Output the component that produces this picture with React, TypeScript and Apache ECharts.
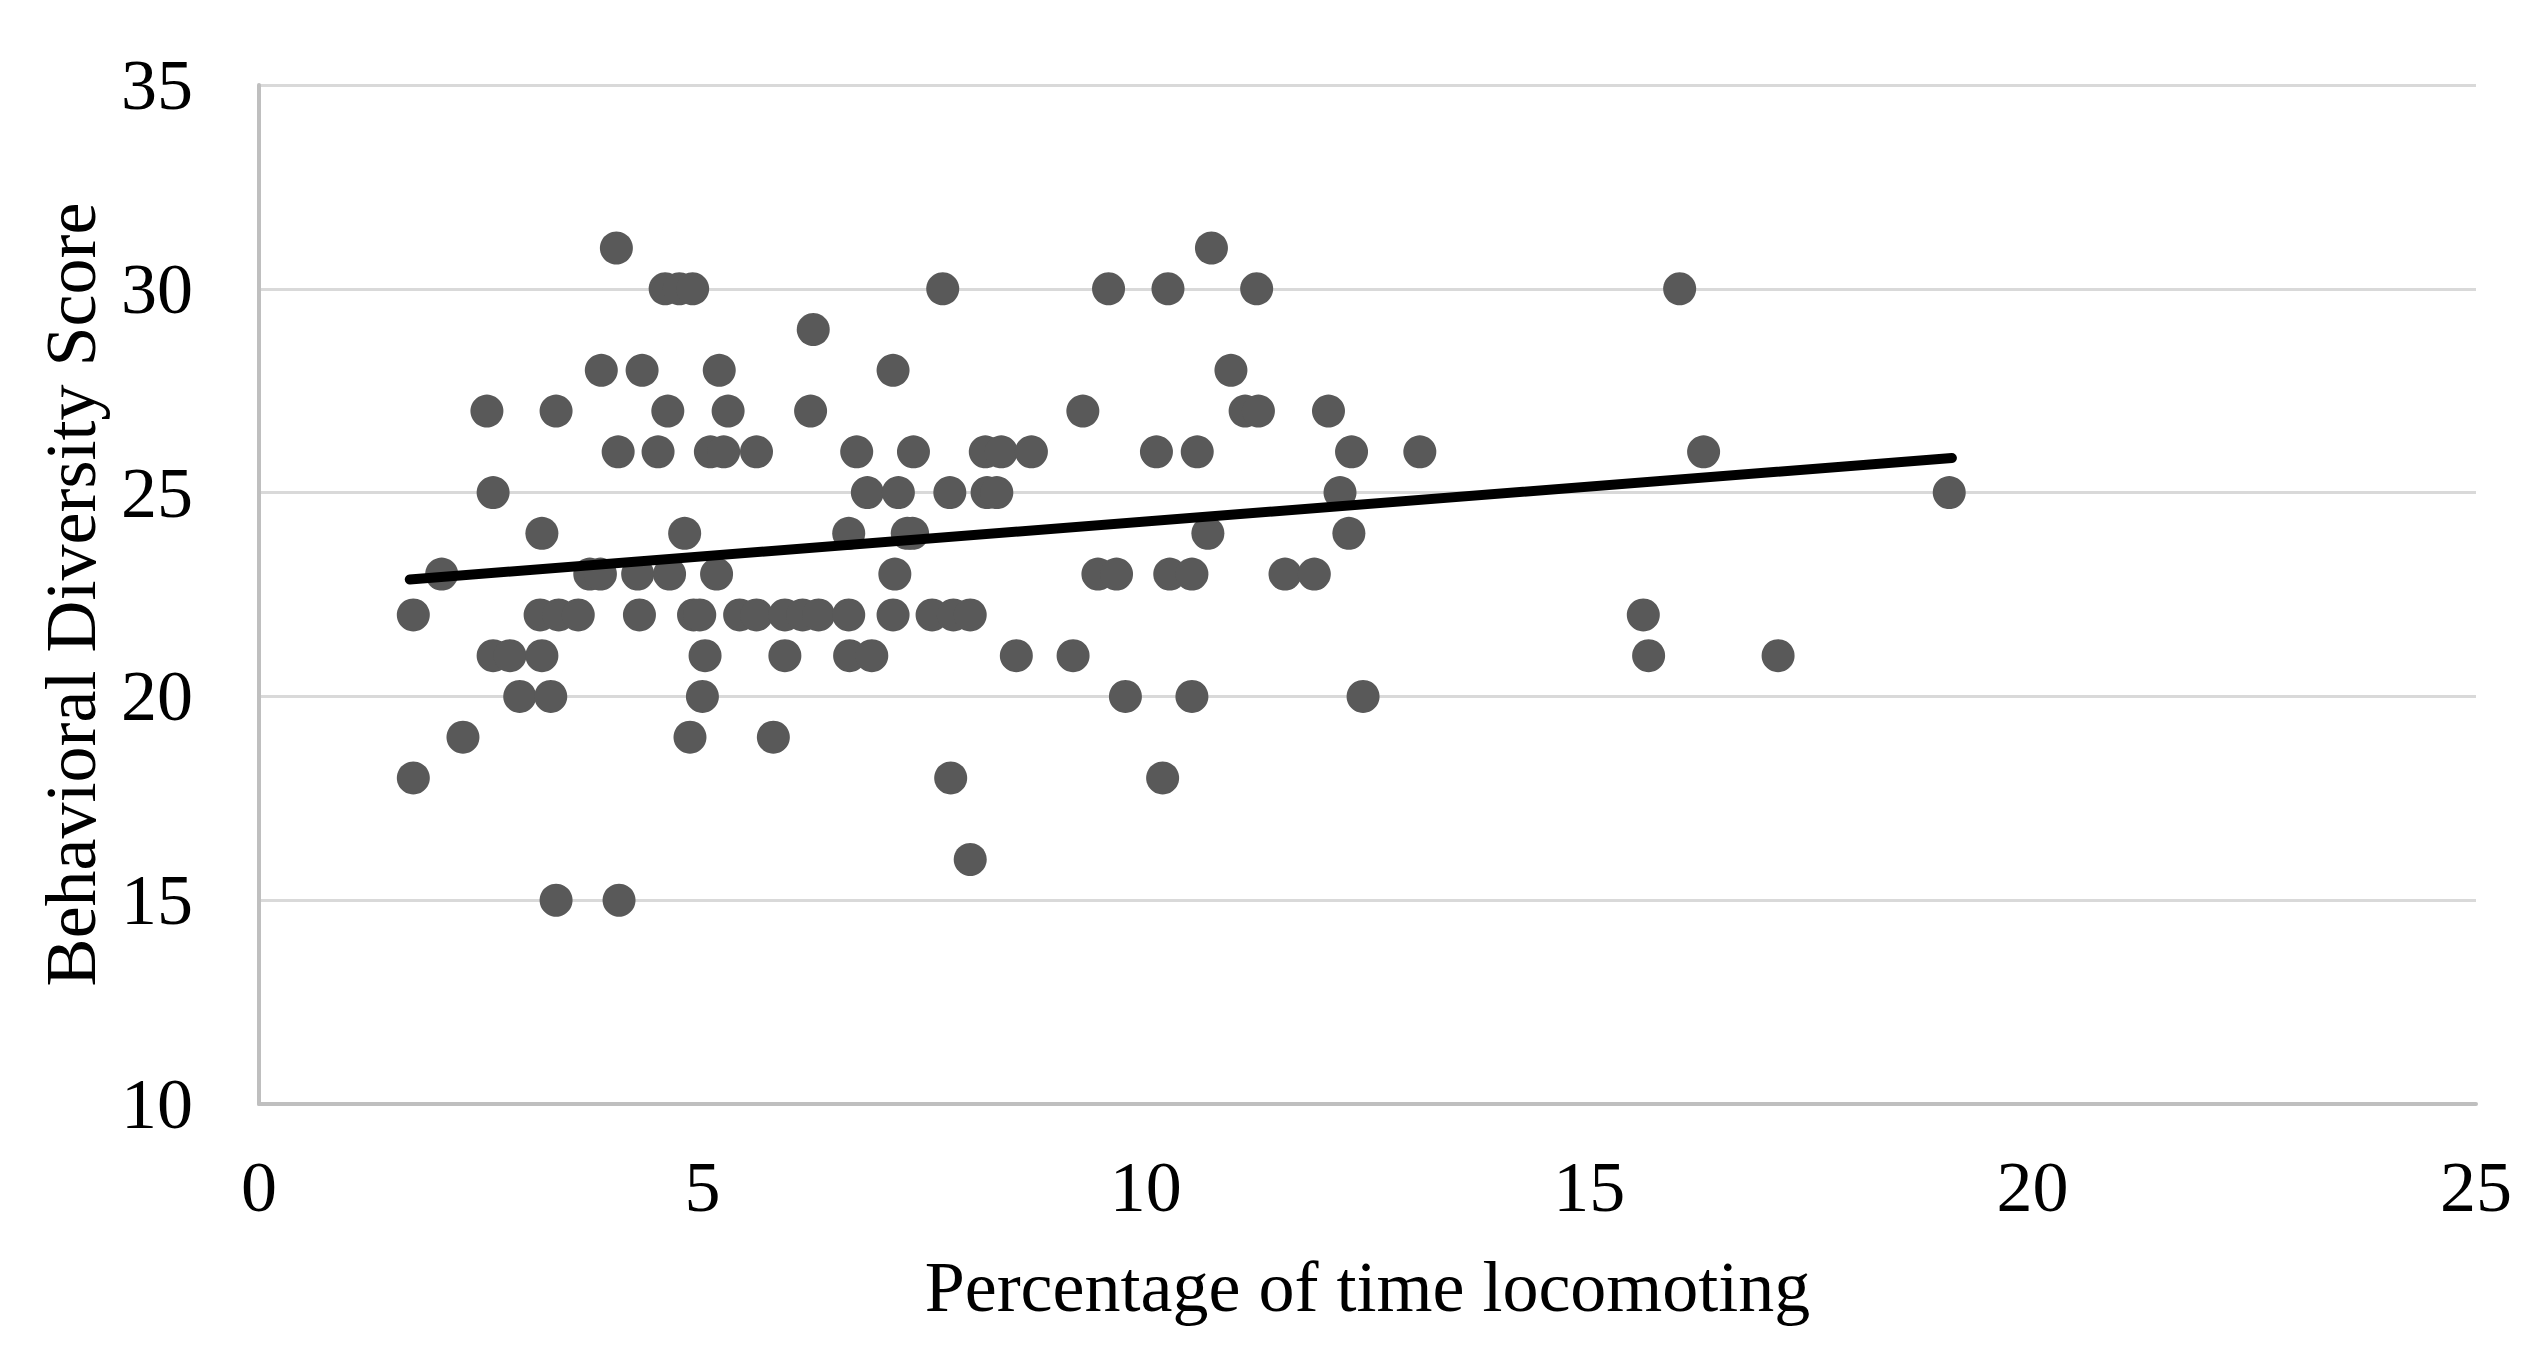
import React, { useEffect, useRef } from "react";
import * as echarts from "echarts";

const xTicks = [0, 5, 10, 15, 20, 25];
const yTicks = [10, 15, 20, 25, 30, 35];
const xTitle = "Percentage of time locomoting";
const yTitle = "Behavioral Diversity Score";

// percentage of time locomoting (x) and behavioral diversity score (y), paired
const locomotingPct = [
  4.03, 10.74,
  4.58, 4.74, 4.89, 7.71, 9.58, 10.25, 11.25, 16.02,
  6.25,
  3.86, 4.32, 5.19, 7.15, 10.96,
  2.57, 3.35, 4.61, 5.29, 6.22, 9.29, 11.12, 11.27, 12.06,
  4.05, 4.5, 5.09, 5.24, 5.61, 6.74, 7.38, 8.19, 8.37, 8.71, 10.12, 10.58, 12.32, 13.09, 16.29,
  2.64, 6.86, 7.21, 7.79, 8.21, 8.32, 12.19, 19.06,
  3.19, 4.8, 6.65, 7.31, 7.37, 10.7, 12.29,
  2.06, 3.73, 3.85, 4.27, 4.63, 5.16, 7.17, 9.46, 9.67, 10.27, 10.52, 11.57, 11.9,
  1.74, 3.17, 3.38, 3.6, 4.29, 4.9, 4.97, 5.42, 5.61, 5.93, 6.13, 6.31, 6.65, 7.15, 7.59, 7.83, 8.02, 15.61,
  2.64, 2.83, 3.19, 5.03, 5.93, 6.66, 6.91, 8.54, 9.18, 15.67, 17.13,
  2.94, 3.29, 5.0, 9.77, 10.52, 12.45,
  2.3, 4.86, 5.8,
  1.74, 7.8, 10.19,
  8.02,
  3.35, 4.06,
];
const diversityScore = [
  31, 31,
  30, 30, 30, 30, 30, 30, 30, 30,
  29,
  28, 28, 28, 28, 28,
  27, 27, 27, 27, 27, 27, 27, 27, 27,
  26, 26, 26, 26, 26, 26, 26, 26, 26, 26, 26, 26, 26, 26, 26,
  25, 25, 25, 25, 25, 25, 25, 25,
  24, 24, 24, 24, 24, 24, 24,
  23, 23, 23, 23, 23, 23, 23, 23, 23, 23, 23, 23, 23,
  22, 22, 22, 22, 22, 22, 22, 22, 22, 22, 22, 22, 22, 22, 22, 22, 22, 22,
  21, 21, 21, 21, 21, 21, 21, 21, 21, 21, 21,
  20, 20, 20, 20, 20, 20,
  19, 19, 19,
  18, 18, 18,
  16,
  15, 15,
];

// linear trend line end points
const trendX = [1.7, 19.09];
const trendY = [22.87, 25.85];

const FONT = "'Liberation Serif', 'Times New Roman', serif";

export default function App() {
  const ref = useRef<HTMLDivElement | null>(null);

  useEffect(() => {
    if (!ref.current) return;
    const chart = echarts.init(ref.current, undefined, { renderer: "svg" });
    const points = locomotingPct.map((x, i) => [x, diversityScore[i]]);
    const trend = trendX.map((x, i) => [x, trendY[i]]);
    chart.setOption({
      animation: false,
      backgroundColor: "#ffffff",
      grid: { left: 259, right: 66, top: 85, bottom: 257, containLabel: false },
      xAxis: {
        type: "value",
        min: xTicks[0],
        max: xTicks[xTicks.length - 1],
        interval: xTicks[1] - xTicks[0],
        name: xTitle,
        nameLocation: "middle",
        nameGap: 147,
        nameTextStyle: { fontFamily: FONT, fontSize: 72, color: "#000000" },
        axisLine: { show: true, onZero: false, lineStyle: { color: "#bfbfbf", width: 4 } },
        axisTick: { show: false },
        splitLine: { show: false },
        axisLabel: { fontFamily: FONT, fontSize: 72, color: "#000000", margin: 47 },
      },
      yAxis: {
        type: "value",
        min: yTicks[0],
        max: yTicks[yTicks.length - 1],
        interval: yTicks[1] - yTicks[0],
        name: yTitle,
        nameLocation: "middle",
        nameGap: 152,
        nameTextStyle: { fontFamily: FONT, fontSize: 72, color: "#000000" },
        axisLine: { show: true, lineStyle: { color: "#bfbfbf", width: 4 } },
        axisTick: { show: false },
        splitLine: { show: true, lineStyle: { color: "#d9d9d9", width: 3 } },
        axisLabel: { fontFamily: FONT, fontSize: 72, color: "#000000", margin: 66 },
      },
      series: [
        {
          type: "scatter",
          data: points,
          symbol: "circle",
          symbolSize: 33,
          itemStyle: { color: "#595959", opacity: 1 },
          z: 2,
        },
        {
          type: "line",
          data: trend,
          showSymbol: false,
          symbol: "none",
          lineStyle: { color: "#000000", width: 10, cap: "round" },
          z: 3,
        },
      ],
    });
    return () => chart.dispose();
  }, []);

  return (
    <div
      ref={ref}
      style={{ position: "fixed", left: 0, top: 0, width: 2542, height: 1361, background: "#ffffff" }}
    />
  );
}
